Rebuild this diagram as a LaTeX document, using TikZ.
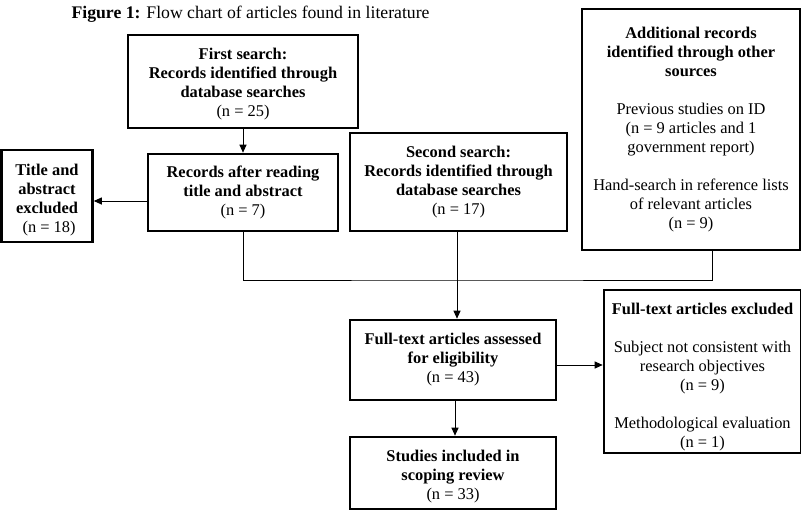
\documentclass[tikz,border=0pt]{standalone}
\usepackage{fontspec}
\setmainfont{Liberation Serif}
\usetikzlibrary{arrows.meta,calc}
\newcommand{\dnstrut}[1]{\rule{0pt}{#1}}
\begin{document}
\begin{tikzpicture}[x=1pt,y=-1pt,
  every node/.style={font=\fontsize{16.4}{19}\selectfont},
  box/.style={draw,line width=2.6pt,align=center,inner sep=0pt,anchor=center},
  conn/.style={line width=1pt},
  arr/.style={conn,-{Triangle[length=8pt,width=7pt]}}]
\useasboundingbox (0,0) rectangle (801,520);
\node[anchor=base west,font=\fontsize{17.7}{20}\selectfont] (cap) at (68,18) {\textbf{Figure 1:} Flow chart of articles found in literature};
\node[box,minimum width=230,minimum height=93] (first) at (243,81.5)
  {\dnstrut{17pt}\textbf{First search:}\\\textbf{Records identified through}\\\textbf{database searches}\\(n = 25)};
\node[box,minimum width=190,minimum height=77] (rec) at (243,192.5)
  {\textbf{Records after reading}\\\textbf{title and abstract}\\(n = 7)};
\node[box,minimum width=91,minimum height=92] (title) at (47,196)
  {\dnstrut{19pt}\textbf{Title and}\\\textbf{abstract}\\\textbf{excluded}\\\ (n = 18)};
\node[box,minimum width=217,minimum height=98] (second) at (458.5,182)
  {\textbf{Second search:}\\\textbf{Records identified through}\\\textbf{database searches}\\(n = 17)};
\node[box,minimum width=218,minimum height=241] (add) at (691,129.5)
  {\textbf{Additional records}\\\textbf{identified through other}\\\textbf{sources}\\[19pt]Previous studies on ID\\(n = 9 articles and 1\\government report)\\[19pt]Hand-search in reference lists\\of relevant articles\\(n = 9)};
\node[box,minimum width=206,minimum height=80] (full) at (453,360)
  {\textbf{Full-text articles assessed}\\\textbf{for eligibility}\\(n = 43)};
\node[box,minimum width=206,minimum height=72] (studies) at (453,473)
  {\dnstrut{18pt}\textbf{Studies included in}\\\textbf{scoping review}\\(n = 33)};
\node[box,minimum width=197,minimum height=163] (excl) at (702.5,371.5)
  {\dnstrut{23pt}\textbf{Full-text articles excluded}\\[19pt]Subject not consistent with\\research objectives\\(n = 9)\\[19pt]Methodological evaluation\\(n = 1)};
\coordinate (j) at (457,280);
\coordinate (addfoot) at (712,250);
\draw[arr] (first.south) -- (rec.north);
\draw[arr] ($(rec.west)+(0,8.5)$) -- ($(title.east)+(0,5)$);
\draw[conn] (rec.south) |- (j) -| (addfoot);
\draw[arr] (second.south -| j) -- (full.north -| j);
\draw[arr] ($(full.south)+(2,0)$) -- ($(studies.north)+(2,0)$);
\draw[arr] ($(full.east)+(0,5)$) -- ($(excl.west)+(0,-6.5)$);
\end{tikzpicture}
\end{document}
